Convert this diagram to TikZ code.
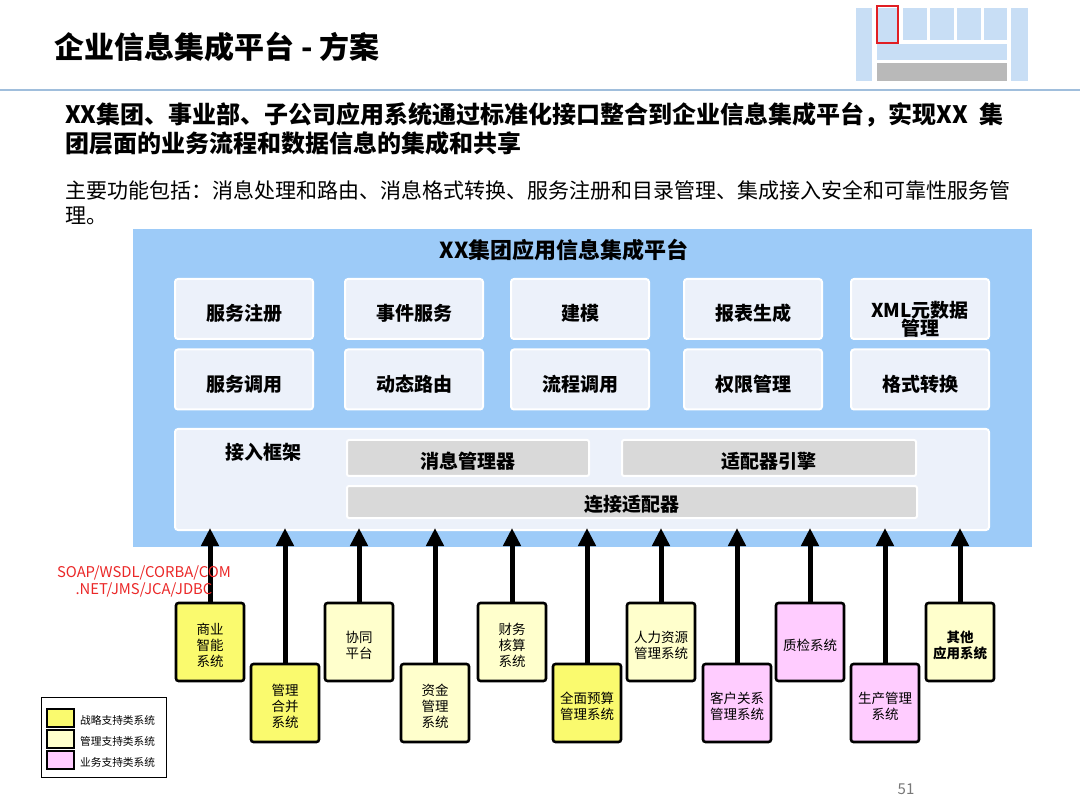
\documentclass[tikz,border=0pt]{standalone}
\usepackage{fontspec}
\setmainfont{Noto Sans CJK SC}
\usetikzlibrary{arrows.meta}
\definecolor{platblue}{RGB}{157,203,248}
\definecolor{boxfill}{RGB}{236,241,250}
\definecolor{graybox}{RGB}{217,217,217}
\definecolor{ystrong}{RGB}{250,250,110}
\definecolor{ylight}{RGB}{255,255,204}
\definecolor{pinkbox}{RGB}{255,204,255}
\definecolor{hline}{RGB}{160,190,220}
\definecolor{thumbblue}{RGB}{200,222,245}
\definecolor{thumbgray}{RGB}{185,185,185}
\definecolor{thumbred}{RGB}{225,30,35}
\definecolor{pagegray}{RGB}{120,120,120}
\definecolor{protored}{RGB}{235,40,40}
\newcommand{\fs}[2]{\fontsize{#1}{#2}\selectfont}
% function box: name, x, y, text
\newcommand{\funcbox}[4]{%
  \node[funcbox] (#1) at (#2,#3) {};
  \node[functext] (#1t) at ([yshift=-4.5pt]#1.center) {#4};}
% system box: name, x, y, fill, text
\newcommand{\sysbox}[5]{%
  \node[sysbox,fill=#4] (#1) at (#2,#3) {};
  \node[systext] (#1t) at ([yshift=-3pt]#1.center) {#5};}
\begin{document}
\begin{tikzpicture}[x=1pt,y=-1pt,
  funcbox/.style={draw=white,line width=2pt,fill=boxfill,rounded corners=3pt,
     minimum width=138pt,minimum height=60pt,inner sep=0pt},
  functext/.style={inner sep=0pt,align=center,font=\fs{19}{18.5}\bfseries},
  graybar/.style={draw=white,line width=2pt,fill=graybox,rounded corners=2pt,inner sep=0pt},
  sysbox/.style={draw=black,line width=2.6pt,rounded corners=2.5pt,
     minimum width=68pt,minimum height=78pt,inner sep=0pt},
  systext/.style={inner sep=0pt,align=center,font=\fs{13.5}{16}},
  sysarrow/.style={line width=5pt,-{Triangle[width=17pt,length=18pt]}},
  swatch/.style={draw=black,line width=1.2pt,minimum width=27pt,minimum height=18pt,inner sep=0pt},
  legtext/.style={anchor=west,font=\fs{10.7}{12},inner sep=0pt},
  thumb/.style={fill=thumbblue,draw=none}
]
\useasboundingbox (0,0) rectangle (1080,810);
\fill[white] (0,0) rectangle (1080,810);

% title and header
\node[anchor=west,inner sep=0pt,font=\fs{30}{32}\bfseries] (title) at (54,47) {企业信息集成平台 - 方案};
\draw[hline,line width=1.2pt] (0,90) -- (1080,90);

% thumbnail
\fill[thumb] (856,8) rectangle (872,81);
\fill[thumb] (877,8) rectangle (899,42);
\fill[thumb] (903,8) rectangle (927,40);
\fill[thumb] (930,8) rectangle (954,40);
\fill[thumb] (957,8) rectangle (981,40);
\fill[thumb] (984,8) rectangle (1007,40);
\fill[thumb] (877,44) rectangle (1007,60);
\fill[thumbgray] (877,63) rectangle (1007,81);
\fill[thumb] (1011,8) rectangle (1028,81);
\draw[thumbred,line width=2.5pt] (877,6) rectangle (898,43);

% intro text
\node[anchor=west,inner sep=0pt,font=\fs{24}{28}\bfseries] (l1) at (65,115) {XX集团、事业部、子公司应用系统通过标准化接口整合到企业信息集成平台，实现XX\ \ 集};
\node[anchor=west,inner sep=0pt,font=\fs{24}{28}\bfseries] (l2) at (65,143) {团层面的业务流程和数据信息的集成和共享};
\node[anchor=west,inner sep=0pt,font=\fs{21}{24}] (l3) at (65,190) {主要功能包括：消息处理和路由、消息格式转换、服务注册和目录管理、集成接入安全和可靠性服务管};
\node[anchor=west,inner sep=0pt,font=\fs{21}{24}] (l4) at (65,216) {理。};

% platform
\node[fill=platblue,draw=none,minimum width=899pt,minimum height=318pt,inner sep=0pt] (plat) at (582.5,388) {};
\node[font=\fs{22}{24}\bfseries,inner sep=0pt] (plattitle) at (564,250) {XX集团应用信息集成平台};

\funcbox{f11}{244}{309}{服务注册}
\funcbox{f12}{414}{309}{事件服务}
\funcbox{f13}{580}{309}{建模}
\funcbox{f14}{753}{309}{报表生成}
\node[funcbox] (f15) at (920,309) {};
\node[functext] (f15t) at ([yshift=-10.5pt]f15.center) {XML元数据\\管理};
\funcbox{f21}{244}{379.5}{服务调用}
\funcbox{f22}{414}{379.5}{动态路由}
\funcbox{f23}{580}{379.5}{流程调用}
\funcbox{f24}{753}{379.5}{权限管理}
\funcbox{f25}{920}{379.5}{格式转换}

\node[funcbox,minimum width=814pt,minimum height=101pt] (access) at (582,479.5) {};
\node[functext] (accesslbl) at (263,452) {接入框架};
\node[graybar,minimum width=242pt,minimum height=36pt] (msg) at (468,458) {};
\node[functext] (msgt) at ([yshift=-3.5pt]msg.center) {消息管理器};
\node[graybar,minimum width=294pt,minimum height=36pt] (adeng) at (769,458) {};
\node[functext] (adengt) at ([yshift=-3.5pt]adeng.center) {适配器引擎};
\node[graybar,minimum width=570pt,minimum height=32pt] (conn) at (632,502) {};
\node[functext] (connt) at ([yshift=-2.5pt]conn.center) {连接适配器};

% arrow tip line
\coordinate (tip) at (0,528);

% systems
\sysbox{s1}{210}{642}{ystrong}{商业\\智能\\系统}
\sysbox{s2}{285}{703}{ystrong}{管理\\合并\\系统}
\sysbox{s3}{359}{642}{ylight}{协同\\平台}
\sysbox{s4}{435}{703}{ylight}{资金\\管理\\系统}
\sysbox{s5}{512}{642}{ylight}{财务\\核算\\系统}
\sysbox{s6}{587}{703}{ystrong}{全面预算\\管理系统}
\sysbox{s7}{661}{642}{ylight}{人力资源\\管理系统}
\sysbox{s8}{737}{703}{pinkbox}{客户关系\\管理系统}
\sysbox{s9}{810}{642}{pinkbox}{质检系统}
\sysbox{s10}{885}{703}{pinkbox}{生产管理\\系统}
\sysbox{s11}{960}{642}{ylight}{\bfseries 其他\\\bfseries 应用系统}

\foreach \s in {s1,s2,s3,s4,s5,s6,s7,s8,s9,s10,s11}
  \draw[sysarrow] (\s.north) -- (\s.north |- tip);

% protocols
\node[text=protored,font=\fs{14.8}{17},align=center,inner sep=0pt] (proto) at (144,581) {SOAP/WSDL/CORBA/COM\\.NET/JMS/JCA/JDBC};

% legend
\node[draw=black,line width=0.8pt,minimum width=125pt,minimum height=80pt,inner sep=0pt] (legend) at (103.5,737) {};
\node[swatch,fill=ystrong] (k1) at (60.5,718) {};
\node[swatch,fill=ylight] (k2) at (60.5,739) {};
\node[swatch,fill=pinkbox] (k3) at (60.5,760) {};
\node[legtext] (t1) at (80,720) {战略支持类系统};
\node[legtext] (t2) at (80,741) {管理支持类系统};
\node[legtext] (t3) at (80,762) {业务支持类系统};

% page number
\node[text=pagegray,font=\fs{15}{16},inner sep=0pt] (page) at (906,789) {51};
\end{tikzpicture}
\end{document}
